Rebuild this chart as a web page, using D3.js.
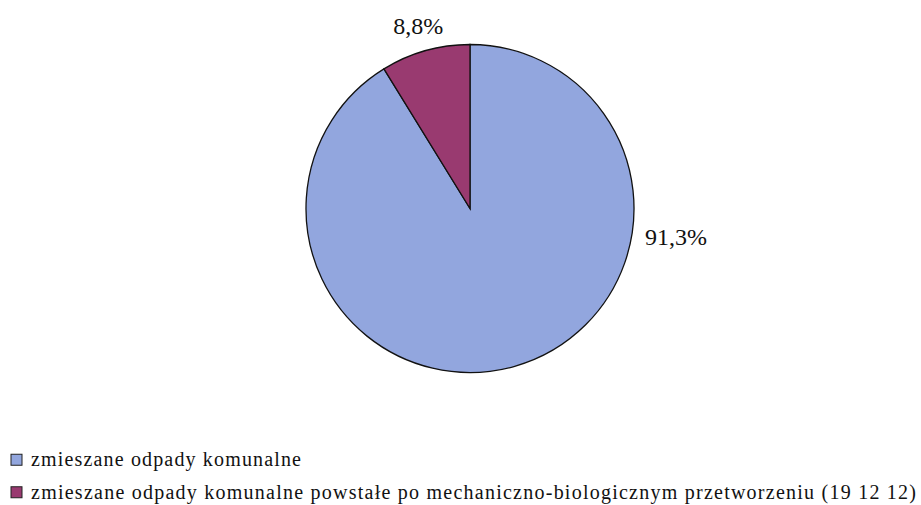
<!DOCTYPE html>
<html>
<head>
<meta charset="utf-8">
<script src="https://cdn.jsdelivr.net/npm/d3@7"></script>
<style>
  html, body { margin: 0; padding: 0; background: #fff; }
</style>
</head>
<body>
<svg id="chart" width="921" height="505"></svg>
<script>
const categories = [
  "zmieszane odpady komunalne",
  "zmieszane odpady komunalne powstałe po mechaniczno-biologicznym przetworzeniu (19 12 12)"
];
const values = [91.3, 8.8];
const labels = ["91,3%", "8,8%"];
const colors = ["#92a6de", "#993a70"];

const width = 921, height = 505;
const cx = 470, cy = 208.5, radius = 164;
const serif = "'Liberation Serif', 'Times New Roman', Tinos, serif";

const svg = d3.select("#chart");

const pie = d3.pie().sort(null).value(d => d);
const arcs = pie(values);
const arc = d3.arc().innerRadius(0).outerRadius(radius);

const g = svg.append("g").attr("transform", `translate(${cx},${cy})`);

g.selectAll("path")
  .data(arcs)
  .enter()
  .append("path")
  .attr("d", arc)
  .attr("fill", (d, i) => colors[i])
  .attr("stroke", "#111")
  .attr("stroke-width", 1.3);

// etykiety: duza seria po prawej stronie, mala nad wycinkiem
const labelPos = [
  { angle: (98 / 180) * Math.PI, r: 208 },
  null
];
g.selectAll("text.lbl")
  .data(arcs)
  .enter()
  .append("text")
  .attr("class", "lbl")
  .attr("text-anchor", "middle")
  .attr("dominant-baseline", "central")
  .attr("font-family", serif)
  .attr("fill", "#111")
  .style("font-size", "24px")
  .attr("transform", (d, i) => {
    const a = labelPos[i] ? labelPos[i].angle : (d.startAngle + d.endAngle) / 2;
    const r = labelPos[i] ? labelPos[i].r : 190;
    return `translate(${Math.sin(a) * r},${-Math.cos(a) * r})`;
  })
  .text((d, i) => labels[i]);

// legenda
const legendY = d3.scaleBand().domain(d3.range(categories.length)).range([444, 509]);
const legendWidths = [270, 885];
const lg = svg.append("g");
const item = lg.selectAll("g")
  .data(categories)
  .enter()
  .append("g")
  .attr("transform", (d, i) => `translate(0,${legendY(i) + legendY.bandwidth() / 2})`);

item.append("rect")
  .attr("x", 11)
  .attr("y", -6)
  .attr("width", 11)
  .attr("height", 11)
  .attr("fill", (d, i) => colors[i])
  .attr("stroke", "#222")
  .attr("stroke-width", 1);

item.append("text")
  .attr("x", 31)
  .attr("y", 6)
  .attr("font-family", serif)
  .attr("fill", "#111")
  .style("font-size", "20px")
  .attr("textLength", (d, i) => legendWidths[i])
  .attr("lengthAdjust", "spacing")
  .text(d => d);
</script>
</body>
</html>
